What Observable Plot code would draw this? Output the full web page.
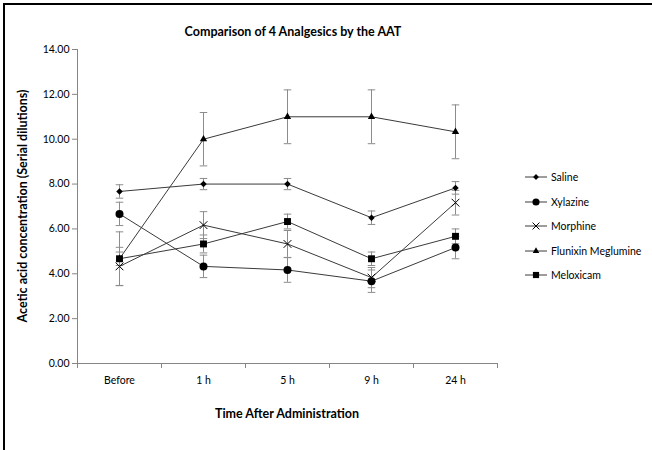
<!DOCTYPE html>
<html><head><meta charset="utf-8">
<script src="https://cdn.jsdelivr.net/npm/d3@7"></script>
<script src="https://cdn.jsdelivr.net/npm/@observablehq/plot@0.6"></script>
<style>
body{margin:0;background:#fff;font-family:Lato,"Open Sans",sans-serif;}
#wrap{position:relative;width:652px;height:450px;overflow:hidden;background:#fff;}
#frame{position:absolute;left:3px;top:3px;width:700px;height:500px;border-left:2px solid #000;border-top:2px solid #000;box-sizing:border-box;pointer-events:none;}
#title{position:absolute;left:0;width:586px;top:24px;text-align:center;font-weight:700;font-size:12.5px;color:#000;}
#ytitle{position:absolute;left:22px;top:206px;transform:translate(-50%,-50%) rotate(-90deg);white-space:nowrap;font-weight:700;font-size:12.5px;}
#xtitle{position:absolute;left:0;width:574px;top:406px;text-align:center;font-weight:700;font-size:12.5px;}
#legend{position:absolute;left:524px;top:165px;font-size:10.5px;}
#legend .item{display:flex;align-items:center;height:24.5px;}
#legend svg{margin-right:3px;}
#plot{position:absolute;left:0;top:0;}
</style></head><body>
<div id="wrap">
  <div id="plot"></div>
  <div id="title">Comparison of 4 Analgesics by the AAT</div>
  <div id="ytitle">Acetic acid concentration (Serial dilutions)</div>
  <div id="xtitle">Time After Administration</div>
  <div id="legend"></div>
  <div id="frame"></div>
</div>
<script>
// ---- data ----
const times = ["Before", "1 h", "5 h", "9 h", "24 h"];
const seriesNames = ["Saline", "Xylazine", "Morphine", "Flunixin Meglumine", "Meloxicam"];
const saline = [7.67, 8.00, 8.00, 6.50, 7.83];
const salineErr = [0.30, 0.25, 0.25, 0.30, 0.28];
const xylazine = [6.67, 4.33, 4.17, 3.67, 5.17];
const xylazineErr = [0.52, 0.50, 0.55, 0.50, 0.50];
const morphine = [4.33, 6.17, 5.33, 3.83, 7.17];
const morphineErr = [0.85, 0.60, 0.60, 0.45, 0.55];
const flunixin = [4.67, 10.00, 11.00, 11.00, 10.33];
const flunixinErr = [1.20, 1.19, 1.20, 1.20, 1.20];
const meloxicam = [4.67, 5.33, 6.33, 4.67, 5.67];
const meloxicamErr = [0.30, 0.40, 0.33, 0.30, 0.33];
const yTicks = [0, 2, 4, 6, 8, 10, 12, 14];

const values = [saline, xylazine, morphine, flunixin, meloxicam];
const errs = [salineErr, xylazineErr, morphineErr, flunixinErr, meloxicamErr];
const symbols = ["diamond2", "circle", "times", "triangle2", "square2"];
const radii = [2.9, 4, 3.6, 3.5, 4.4];
const d3symbols = [d3.symbolDiamond2, d3.symbolCircle, d3.symbolTimes, d3.symbolTriangle2, d3.symbolSquare2];

const rows = [];
seriesNames.forEach((s, k) => times.forEach((t, i) => rows.push({
  series: s, k, i, value: values[k][i], lo: values[k][i] - errs[k][i], hi: values[k][i] + errs[k][i]
})));
const boundaries = times.map((t, i) => i - 0.5).concat([times.length - 0.5]);
const capW = 0.045;
const axisGray = "#868686";

const marks = [
  Plot.ruleY([0], {stroke: axisGray}),
  Plot.ruleX([-0.5], {stroke: axisGray}),
  Plot.axisY({ticks: yTicks, tickFormat: d3.format(".2f"), tickSize: 5, tickPadding: 3, stroke: axisGray, fill: "#000", fontSize: 10.5, label: null}),
  Plot.axisX({ticks: boundaries, tickSize: 5, tickFormat: () => "", stroke: axisGray, label: null}),
  Plot.axisX({ticks: times.map((t, i) => i), tickSize: 0, tickPadding: 13, tickFormat: i => times[i], fontSize: 10.5, fill: "#000", label: null}),
  Plot.ruleX(rows, {x: "i", y1: "lo", y2: "hi", stroke: "#8c8c8c", strokeWidth: 1}),
  Plot.link(rows, {x1: d => d.i - capW, x2: d => d.i + capW, y1: "hi", y2: "hi", stroke: "#8c8c8c"}),
  Plot.link(rows, {x1: d => d.i - capW, x2: d => d.i + capW, y1: "lo", y2: "lo", stroke: "#8c8c8c"}),
  Plot.line(rows, {x: "i", y: "value", z: "series", stroke: "#3a3a3a", strokeWidth: 1})
];
seriesNames.forEach((s, k) => {
  const data = rows.filter(d => d.k === k);
  if (symbols[k] === "times") {
    marks.push(Plot.dot(data, {x: "i", y: "value", symbol: symbols[k], r: radii[k], stroke: "#000", strokeWidth: 1}));
  } else {
    marks.push(Plot.dot(data, {x: "i", y: "value", symbol: symbols[k], r: radii[k], fill: "#000", stroke: "none"}));
  }
});

const chart = Plot.plot({
  width: 652, height: 450,
  marginLeft: 77, marginRight: 155, marginTop: 49, marginBottom: 87,
  style: {fontFamily: "Lato, 'Open Sans', sans-serif", fontSize: "10.5px", background: "transparent", color: "#000"},
  x: {type: "linear", domain: [-0.5, times.length - 0.5], axis: null},
  y: {domain: [0, 14], axis: null},
  marks
});
document.getElementById("plot").appendChild(chart);

// legend
const legend = d3.select("#legend");
seriesNames.forEach((s, k) => {
  const item = legend.append("div").attr("class", "item");
  const svg = item.append("svg").attr("width", 24).attr("height", 12);
  svg.append("line").attr("x1", 1).attr("x2", 23).attr("y1", 6).attr("y2", 6).attr("stroke", "#3a3a3a");
  const size = Math.PI * radii[k] * radii[k] * 0.8;
  const path = svg.append("path").attr("transform", "translate(12,6)").attr("d", d3.symbol(d3symbols[k], size)());
  if (symbols[k] === "times") path.attr("fill", "none").attr("stroke", "#000");
  else path.attr("fill", "#000");
  item.append("span").text(s);
});
</script>
</body></html>
